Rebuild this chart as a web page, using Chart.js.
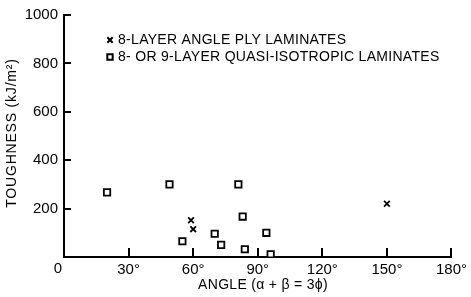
<!DOCTYPE html>
<html>
<head>
<meta charset="utf-8">
<script src="https://cdn.jsdelivr.net/npm/chart.js@4/dist/chart.umd.min.js"></script>
<style>
  html, body { margin: 0; padding: 0; background: #fff; }
  #wrap { width: 471px; height: 297px; }
</style>
</head>
<body>
<div id="wrap"><canvas id="chart1" width="471" height="297"></canvas></div>
<script>
// data
const angleTicks = [0, 30, 60, 90, 120, 150, 180];
const toughTicks = [0, 200, 400, 600, 800, 1000];

const plyAngle = [59, 60, 150];
const plyTough = [152, 115, 220];

const quasiAngle = [20, 49, 55, 70, 73, 81, 83, 84, 94, 96];
const quasiTough = [267, 300, 65, 96, 50, 300, 167, 32, 100, 11];

const legendLabels = ['8-LAYER ANGLE PLY LAMINATES', '8- OR 9-LAYER QUASI-ISOTROPIC LAMINATES'];

const FONT = '"Liberation Sans", Arial, sans-serif';

const toPoints = (xs, ys) => xs.map((x, i) => ({ x: x, y: ys[i] }));

// inward ticks, axis titles and the in-plot legend
const decor = {
	id: 'decor',
	afterDraw(chart) {
		const ctx = chart.ctx;
		const xs = chart.scales.x, ys = chart.scales.y;
		const area = chart.chartArea;
		ctx.save();
		ctx.setLineDash([]);
		ctx.strokeStyle = '#000';
		ctx.lineWidth = 2;
		ctx.beginPath();
		for (const v of toughTicks.slice(1)) {
			const py = Math.round(ys.getPixelForValue(v));
			ctx.moveTo(area.left, py);
			ctx.lineTo(area.left + 7, py);
		}
		for (const v of angleTicks.slice(1)) {
			const px = Math.round(xs.getPixelForValue(v));
			ctx.moveTo(px, area.bottom);
			ctx.lineTo(px, area.bottom - 9);
		}
		ctx.stroke();

		ctx.fillStyle = '#000';
		// shared origin label sits a bit left of the corner
		ctx.font = '15px ' + FONT;
		ctx.textAlign = 'center';
		ctx.textBaseline = 'middle';
		ctx.fillText('0', area.left - 6, area.bottom + 12);

		ctx.font = '14px ' + FONT;
		ctx.letterSpacing = '0.3px';
		ctx.fillText('ANGLE (\u03b1 + \u03b2 = 3\u03d5)', 263, 285);

		ctx.save();
		ctx.translate(12, 133);
		ctx.rotate(-Math.PI / 2);
		ctx.letterSpacing = '0.8px';
		ctx.fillText('TOUGHNESS (kJ/m\u00b2)', 0, 0);
		ctx.restore();

		// legend
		ctx.textAlign = 'left';
		const ds = chart.data.datasets;
		legendLabels.forEach((lab, i) => {
			const ly = 40 + i * 17;
			ctx.fillStyle = '#fff';
			ctx.strokeStyle = '#000';
			Chart.helpers.drawPoint(ctx, {
				pointStyle: ds[i].pointStyle, radius: 3.8, borderWidth: 1.5
			}, 110, ly);
			ctx.fillStyle = '#000';
			ctx.fillText(lab, 118, ly);
		});
		ctx.restore();
	}
};

new Chart('chart1', {
	type: 'scatter',
	data: {
		datasets: [{
			label: legendLabels[0],
			data: toPoints(plyAngle, plyTough),
			pointStyle: 'crossRot',
			pointRadius: 4,
			borderColor: '#000',
			borderWidth: 1.8
		}, {
			label: legendLabels[1],
			data: toPoints(quasiAngle, quasiTough),
			pointStyle: 'rect',
			pointRadius: 4.5,
			backgroundColor: '#fff',
			borderColor: '#000',
			borderWidth: 1.8
		}]
	},
	options: {
		responsive: false,
		animation: false,
		layout: { padding: { top: 10, right: 16.5, left: 0, bottom: 0 } },
		plugins: { legend: { display: false }, tooltip: { enabled: false } },
		scales: {
			x: {
				type: 'linear', min: 0, max: 180,
				afterBuildTicks(s) { s.ticks = angleTicks.map(v => ({ value: v })); },
				afterFit(s) { s.height = 40; },
				grid: { display: false, drawTicks: false },
				border: { display: true, color: '#000', width: 2 },
				ticks: {
					color: '#000', padding: 4,
					font: { family: FONT, size: 15 },
					callback: v => v === 0 ? '' : v + '\u00b0'
				}
			},
			y: {
				type: 'linear', min: 0, max: 1000,
				afterBuildTicks(s) { s.ticks = toughTicks.map(v => ({ value: v })); },
				afterFit(s) { s.width = 64; },
				grid: { display: false, drawTicks: false },
				border: { display: true, color: '#000', width: 2 },
				ticks: {
					color: '#000', padding: 6,
					font: { family: FONT, size: 15 },
					callback: v => v === 0 ? '' : String(v)
				}
			}
		}
	},
	plugins: [decor]
});
</script>
</body>
</html>
